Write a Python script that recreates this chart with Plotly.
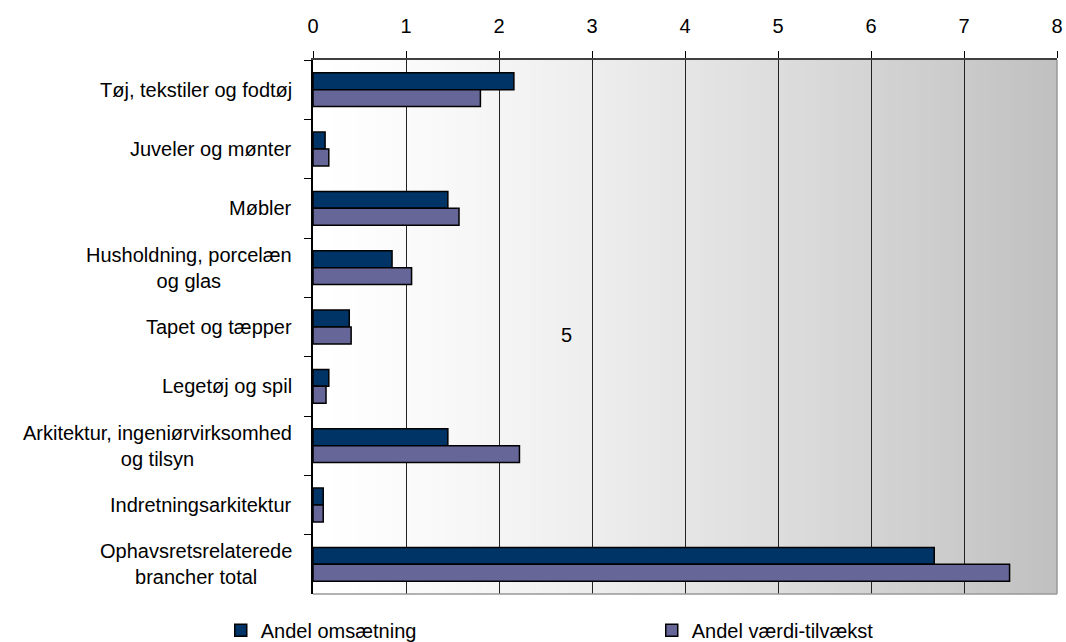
import plotly.graph_objects as go

categories = ["Tøj, tekstiler og fodtøj", "Juveler og mønter", "Møbler",
              "Husholdning, porcelæn og glas", "Tapet og tæpper", "Legetøj og spil",
              "Arkitektur, ingeniørvirksomhed og tilsyn", "Indretningsarkitektur",
              "Ophavsretsrelaterede brancher total"]
category_labels = ["Tøj, tekstiler og fodtøj", "Juveler og mønter", "Møbler",
                   "Husholdning, porcelæn<br>og glas", "Tapet og tæpper", "Legetøj og spil",
                   "Arkitektur, ingeniørvirksomhed<br>og tilsyn", "Indretningsarkitektur",
                   "Ophavsretsrelaterede<br>brancher total"]
andel_omsaetning = [2.16, 0.13, 1.45, 0.85, 0.39, 0.17, 1.45, 0.11, 6.68]
andel_vaerdi = [1.80, 0.17, 1.57, 1.06, 0.41, 0.14, 2.22, 0.11, 7.49]
series_names = ["Andel omsætning", "Andel værdi-tilvækst"]
x_ticks = [0, 1, 2, 3, 4, 5, 6, 7, 8]
note_text = "5"

FONT = "Liberation Sans, Arial, sans-serif"
FS = 20

fig = go.Figure()
fig.add_trace(go.Bar(y=categories, x=andel_omsaetning, orientation="h", name=series_names[0],
                     marker=dict(color="#003366", line=dict(color="#000000", width=1.5))))
fig.add_trace(go.Bar(y=categories, x=andel_vaerdi, orientation="h", name=series_names[1],
                     marker=dict(color="#666699", line=dict(color="#000000", width=1.5))))

# gradient background strips (overlapping to avoid seams)
xmax = x_ticks[-1]
n = 120
step = xmax / n
shapes = []
for i in range(n):
    x0 = step * i
    x1 = min(xmax, step * (i + 2))
    t = (i + 0.5) / n
    v = int(round(255 - 63 * t ** 1.3))
    shapes.append(dict(type="rect", xref="x", yref="paper", x0=x0, x1=x1, y0=0, y1=1,
                       fillcolor=f"rgb({v},{v},{v})", line=dict(width=0), layer="below"))
# right / bottom border
shapes.append(dict(type="line", xref="paper", yref="paper", x0=1, x1=1, y0=0, y1=1,
                   line=dict(color="#999999", width=1.5)))
shapes.append(dict(type="line", xref="paper", yref="paper", x0=0, x1=1, y0=0, y1=0,
                   line=dict(color="#999999", width=1.5)))

annotations = []
for cat, lab in zip(categories, category_labels):
    annotations.append(dict(x=0, xref="paper", y=cat, yref="y", text=lab, showarrow=False,
                            xanchor="right", align="center", xshift=-19,
                            font=dict(family=FONT, size=FS, color="#000000")))
annotations.append(dict(x=2.73, xref="x", y=0.485, yref="paper", text=note_text, showarrow=False,
                        font=dict(family=FONT, size=FS, color="#000000")))

fig.update_layout(
    width=1066, height=642,
    margin=dict(l=313, r=9, t=60, b=48, autoexpand=False),
    paper_bgcolor="#ffffff", plot_bgcolor="#ffffff",
    barmode="group", bargap=0.43, bargroupgap=0,
    font=dict(family=FONT, size=FS, color="#000000"),
    shapes=shapes, annotations=annotations,
    showlegend=True,
    legend=dict(orientation="h", x=-0.124, xanchor="left", y=-0.068, yanchor="middle",
                entrywidth=386, entrywidthmode="pixels", traceorder="normal",
                font=dict(family=FONT, size=FS, color="#000000"), bgcolor="rgba(0,0,0,0)"),
    xaxis=dict(side="top", range=[0, xmax], tickvals=x_ticks, ticks="outside", ticklen=7,
               tickcolor="#000000", showline=True, linecolor="#404040", linewidth=2,
               showgrid=True, gridcolor="#222222", gridwidth=1, zeroline=False,
               automargin=False, ticklabeloverflow="allow",
               ticklabelstandoff=10, tickfont=dict(family=FONT, size=FS, color="#000000")),
    yaxis=dict(type="category", categoryorder="array", categoryarray=categories,
               autorange="reversed", tickson="boundaries", ticks="outside", ticklen=7,
               tickcolor="#000000", showticklabels=False, showline=True, linecolor="#000000",
               linewidth=1.5, showgrid=False, zeroline=False, automargin=False),
)

fig.write_html("out.html", config={"displayModeBar": False},
               post_script="document.body.style.margin='0';document.body.style.overflow='hidden';")
